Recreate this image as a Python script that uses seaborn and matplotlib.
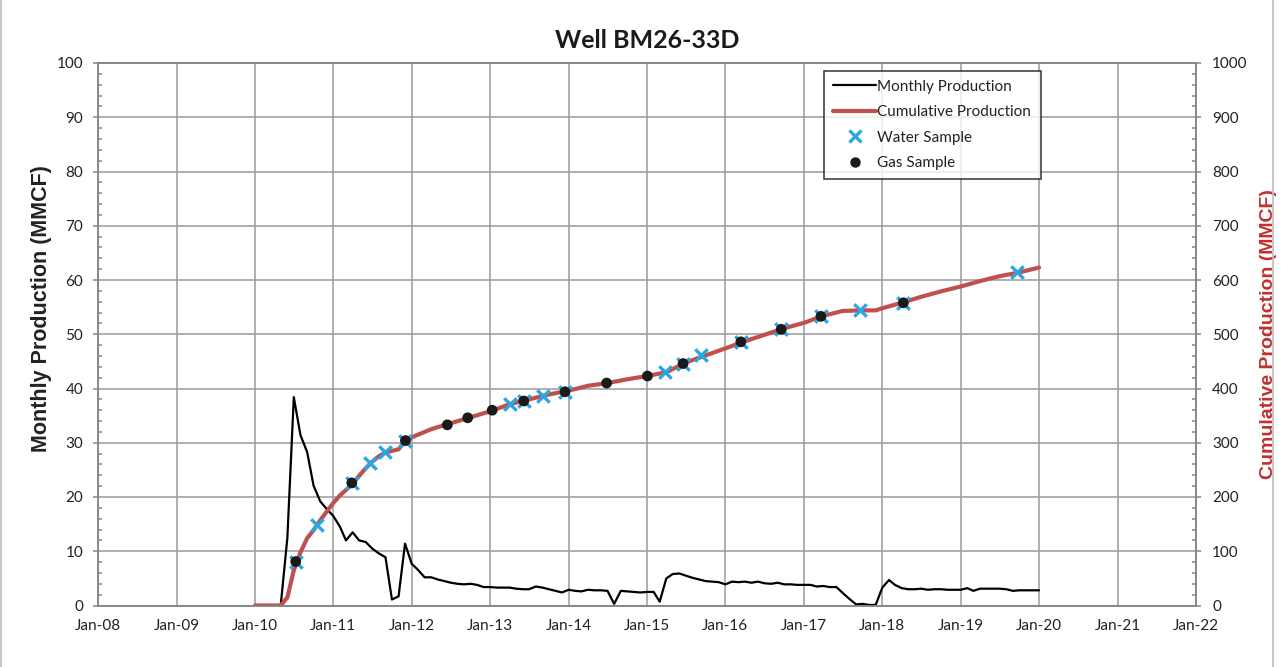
import matplotlib
matplotlib.use("Agg")
import matplotlib.pyplot as plt
import matplotlib.dates as mdates
from matplotlib.lines import Line2D
from matplotlib.ticker import MultipleLocator
import pandas as pd
import seaborn as sns

# monthly production (MMCF), one value per month starting Jan-10
start_month = "2010-01-01"
monthly_mmcf = [
    0, 0, 0, 0, 0, 12.5, 38.4, 31.4, 28.3, 22.1, 19.2, 17.8,
    16.5, 14.5, 12.0, 13.5, 12.0, 11.7, 10.5, 9.6, 8.9, 1.1, 1.7, 11.4,
    7.7, 6.5, 5.2, 5.2, 4.8, 4.5, 4.2, 4.0, 3.9, 4.0, 3.8, 3.4,
    3.4, 3.3, 3.3, 3.3, 3.1, 3.0, 3.0, 3.5, 3.3, 3.0, 2.7, 2.4,
    2.9, 2.7, 2.6, 2.9, 2.8, 2.8, 2.7, 0.3, 2.7, 2.6, 2.5, 2.4,
    2.5, 2.5, 0.7, 5.0, 5.8, 5.9, 5.5, 5.1, 4.8, 4.5, 4.4, 4.3,
    3.9, 4.4, 4.3, 4.4, 4.2, 4.4, 4.1, 4.0, 4.2, 3.9, 3.9, 3.8,
    3.8, 3.8, 3.5, 3.6, 3.4, 3.4, 2.3, 1.2, 0.2, 0.3, 0.1, 0.1,
    3.3, 4.7, 3.8, 3.2, 3.0, 3.0, 3.1, 2.9, 3.0, 3.0, 2.9, 2.9,
    2.9, 3.2, 2.7, 3.1, 3.1, 3.1, 3.1, 3.0, 2.7, 2.8, 2.8, 2.8,
    2.8,
]

# cumulative production (MMCF), read at month offsets from Jan-10
cum_month = [0, 4, 5, 6, 7, 8, 9, 10, 11, 12, 13, 14, 15, 16, 17, 18, 19, 20,
             21, 22, 23, 24, 27, 30, 33, 36, 39, 42, 45, 48, 51, 54, 57, 60,
             63, 66, 69, 72, 75, 78, 81, 84, 87, 90, 93, 95, 96, 99, 102, 105,
             108, 111, 114, 117, 120]
cum_mmcf = [0, 0, 15, 65, 98, 124, 139, 157, 173, 189, 203, 213, 224, 239,
            253, 265, 275, 282, 285, 288, 303, 310, 325, 336, 347, 358, 371,
            380, 389, 396, 405, 410, 417, 423, 430, 448, 461, 474, 487, 499,
            511, 521, 534, 543, 544, 544, 548, 558, 569, 579, 588, 598, 607,
            614, 623]

water_dates = ["2010-07-10", "2010-10-18", "2011-03-28", "2011-06-22",
               "2011-08-28", "2011-12-03", "2013-04-01", "2013-06-06",
               "2013-09-04", "2013-12-15", "2015-03-28", "2015-06-18",
               "2015-09-09", "2016-03-13", "2016-09-17", "2017-03-21",
               "2017-09-21", "2018-04-09", "2019-09-21"]
water_cum = [81, 149, 226, 263, 283, 304, 371, 377, 387, 394, 430, 446,
             461, 486, 509, 533, 544, 558, 614]

gas_dates = ["2010-07-10", "2011-03-28", "2011-12-03", "2012-06-15",
             "2012-09-18", "2013-01-10", "2013-06-06", "2013-12-15",
             "2014-06-27", "2015-01-03", "2015-06-18", "2016-03-13",
             "2016-09-17", "2017-03-21", "2018-04-09"]
gas_cum = [81, 226, 304, 333, 346, 360, 377, 394, 410, 423, 446, 486,
           509, 533, 558]

start = pd.Timestamp(start_month)
monthly_df = pd.DataFrame({
    "date": [start + pd.DateOffset(months=i) for i in range(len(monthly_mmcf))],
    "mmcf": monthly_mmcf,
})
cum_df = pd.DataFrame({
    "date": [start + pd.DateOffset(months=m) for m in cum_month],
    "mmcf": cum_mmcf,
})
water_df = pd.DataFrame({"date": pd.to_datetime(water_dates), "mmcf": water_cum})
gas_df = pd.DataFrame({"date": pd.to_datetime(gas_dates), "mmcf": gas_cum})

sns.set_style("white")
plt.rcParams["font.family"] = ["Lato", "DejaVu Sans"]

RED = "#C0504D"
BLUE = "#2AA7E0"
GRID = "#9A9A9A"
AXC = "#868686"

fig = plt.figure(figsize=(12.84, 6.67), dpi=100)
ax = fig.add_axes([98 / 1284, 1 - 605.5 / 667, 1098 / 1284, 542.5 / 667])
ax2 = ax.twinx()

sns.lineplot(data=monthly_df, x="date", y="mmcf", ax=ax, color="black",
             linewidth=1.6, legend=False)
sns.lineplot(data=cum_df, x="date", y="mmcf", ax=ax2, color=RED,
             linewidth=3.0, legend=False)
sns.scatterplot(data=water_df, x="date", y="mmcf", ax=ax2, marker="x",
                color=BLUE, s=80, linewidth=2.4, zorder=4, legend=False)
sns.scatterplot(data=gas_df, x="date", y="mmcf", ax=ax2, marker="o",
                color="#1a1a1a", s=60, edgecolor="none", zorder=5, legend=False)

ax.set_xlim(pd.Timestamp("2008-01-01"), pd.Timestamp("2022-01-01"))
ax.set_ylim(0, 100)
ax2.set_ylim(0, 1000)

ax.xaxis.set_major_locator(mdates.YearLocator())
ax.xaxis.set_minor_locator(mdates.MonthLocator(bymonth=[4, 7, 10]))
ax.xaxis.set_major_formatter(mdates.DateFormatter("%b-%y"))
ax.yaxis.set_major_locator(MultipleLocator(10))
ax.yaxis.set_minor_locator(MultipleLocator(2))
ax2.yaxis.set_major_locator(MultipleLocator(100))
ax2.yaxis.set_minor_locator(MultipleLocator(20))

ax.grid(True, which="major", color=GRID, linewidth=1.1)
ax.set_axisbelow(True)

for a in (ax, ax2):
    for sp in a.spines.values():
        sp.set_color(AXC)
        sp.set_linewidth(1.1)
    a.tick_params(which="major", direction="out", length=3.6, width=1.1,
                  color=AXC, labelsize=11, labelcolor="#222222")
    a.tick_params(which="minor", direction="in", length=3.0, width=1.1,
                  color=AXC)
ax.tick_params(axis="y", pad=7)
ax.tick_params(axis="x", pad=6)
ax2.tick_params(axis="y", pad=8)

ax.set_xlabel("")
ax.set_ylabel("Monthly Production (MMCF)", fontsize=15.5, fontweight="bold",
              family="Liberation Sans", color="#222222")
ax.yaxis.set_label_coords((52 - 98) / 1098, (605.5 - 309) / 542.5)
ax2.set_ylabel("Cumulative Production (MMCF)", fontsize=14, fontweight="bold",
               family="Liberation Sans", color="#C0302E", labelpad=9)

fig.text(647 / 1284, 1 - 40 / 667, "Well BM26-33D", ha="center", va="center",
         fontsize=18, fontweight="bold", color="#1a1a1a")

handles = [
    Line2D([], [], color="black", linewidth=1.6),
    Line2D([], [], color=RED, linewidth=3.0),
    Line2D([], [], color=BLUE, marker="x", linestyle="none", markersize=8,
           markeredgewidth=2.4),
    Line2D([], [], color="#1a1a1a", marker="o", linestyle="none", markersize=7.5,
           markeredgewidth=0),
]
labels = ["Monthly Production", "Cumulative Production", "Water Sample",
          "Gas Sample"]
leg = ax2.legend(handles, labels, loc="upper left",
                 bbox_to_anchor=((824 - 98) / 1098, (605 - 70) / 542.5),
                 frameon=True, fancybox=False, fontsize=11, handlelength=2.8,
                 handletextpad=0.1, borderpad=0.6, labelspacing=0.75,
                 borderaxespad=0)
leg.get_frame().set_edgecolor("black")
leg.get_frame().set_linewidth(1.1)
for t in leg.get_texts():
    t.set_color("#222222")

# chart-area border lines
fig.add_artist(Line2D([1 / 1284, 1 / 1284], [0, 1], color="#BFBFBF",
                      linewidth=1.2, transform=fig.transFigure))
fig.add_artist(Line2D([1273 / 1284, 1273 / 1284], [0, 1], color="#BFBFBF",
                      linewidth=1.2, transform=fig.transFigure))

fig.savefig("out.png", dpi=100)
